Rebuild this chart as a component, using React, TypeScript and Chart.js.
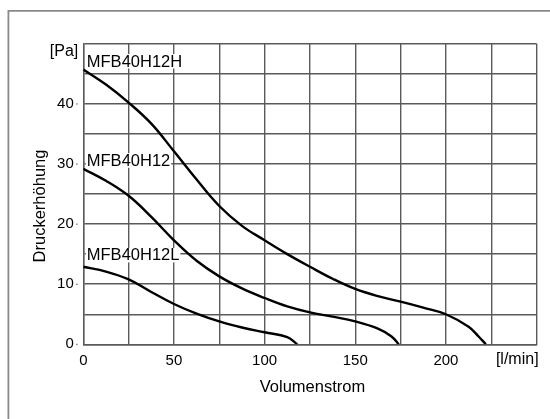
import React, { useEffect, useRef } from 'react';
import { Chart, registerables } from 'chart.js';

Chart.register(...registerables);

// Volumenstrom [l/min] and Druckerhöhung [Pa] per fan model
const flowH = [0, 12.5, 25, 37.5, 50, 62.5, 75, 87.5, 100, 112.5, 125, 137.5, 150, 162.5, 175, 187.5, 200, 212.5, 218, 222];
const pressureH = [45.7, 43.2, 40.2, 36.7, 32.1, 27.4, 23.0, 19.7, 17.3, 15.0, 12.9, 10.9, 9.2, 8.0, 7.1, 6.1, 5.0, 2.9, 1.3, 0];

const flowM = [0, 12.5, 25, 37.5, 50, 62.5, 75, 87.5, 100, 112.5, 125, 137.5, 150, 162.5, 170, 174];
const pressureM = [29.2, 27.2, 24.7, 21.2, 17.3, 13.9, 11.3, 9.3, 7.7, 6.3, 5.3, 4.6, 3.8, 2.6, 1.3, 0];

const flowL = [0, 12.5, 25, 37.5, 50, 62.5, 75, 87.5, 100, 112.5, 118];
const pressureL = [12.9, 12.1, 10.8, 8.7, 6.7, 5.1, 3.8, 2.8, 2.0, 1.2, 0];

const seriesNames = ['MFB40H12H', 'MFB40H12', 'MFB40H12L'];
const seriesLabelValues = [46.2, 29.7, 13.95];

const xTitle = 'Volumenstrom';
const yTitle = 'Druckerhöhung';
const xUnit = '[l/min]';
const yUnit = '[Pa]';

const xMin = 0;
const xMax = 250;
const xStep = 25;
const xLabelStep = 50;
const yMin = 0;
const yMax = 50;
const yStep = 5;
const yLabelStep = 10;

const FONT = '"Liberation Sans", Arial, Helvetica, sans-serif';
const GRID = '#5a5a5a';

const toPoints = (xs: number[], ys: number[]) => xs.map((x, i) => ({ x, y: ys[i] }));

const overlayPlugin = {
  id: 'overlay',
  afterDatasetsDraw(chart: any) {
    const { ctx, scales } = chart;
    const xs = scales.x;
    const ys = scales.y;
    ctx.save();
    ctx.font = `16.5px ${FONT}`;
    ctx.textBaseline = 'alphabetic';
    ctx.textAlign = 'left';
    seriesNames.forEach((name: string, i: number) => {
      const px = xs.getPixelForValue(0) + 3.5;
      const py = ys.getPixelForValue(seriesLabelValues[i]);
      const w = ctx.measureText(name).width;
      ctx.fillStyle = '#ffffff';
      ctx.fillRect(px - 1, py - 12.5, w + 2, 14.5);
      ctx.fillStyle = '#000000';
      ctx.fillText(name, px, py);
    });
    ctx.restore();
  },
  afterDraw(chart: any) {
    const { ctx, scales, chartArea } = chart;
    const xs = scales.x;
    const ys = scales.y;
    ctx.save();
    // outer frame
    ctx.strokeStyle = '#8a8a8a';
    ctx.lineWidth = 1.8;
    ctx.beginPath();
    ctx.moveTo(8.4, chart.height + 2);
    ctx.lineTo(8.4, 10.8);
    ctx.lineTo(chart.width + 2, 10.8);
    ctx.stroke();

    // small tick dots beside the y labels
    ctx.fillStyle = '#666666';
    for (let v = yMin; v < yMax; v += yLabelStep) {
      ctx.fillRect(xs.getPixelForValue(xMin) - 7, ys.getPixelForValue(v) - 0.5, 1.3, 1.3);
    }

    ctx.fillStyle = '#000000';
    ctx.font = `16px ${FONT}`;
    ctx.textBaseline = 'alphabetic';
    // units
    ctx.textAlign = 'right';
    ctx.fillText(yUnit, xs.getPixelForValue(xMin) - 5, ys.getPixelForValue(yMax) + 12);
    ctx.fillText(xUnit, xs.getPixelForValue(xMax) + 2, chartArea.bottom + 20);
    // x title
    ctx.textAlign = 'center';
    ctx.font = `16.5px ${FONT}`;
    ctx.fillText(xTitle, (chartArea.left + chartArea.right) / 2 + 2.5, chartArea.bottom + 47.5);
    // y title
    ctx.translate(44.5, (chartArea.top + chartArea.bottom) / 2 + 12);
    ctx.rotate(-Math.PI / 2);
    ctx.fillText(yTitle, 0, 0);
    ctx.restore();
  },
};

export default function App() {
  const ref = useRef<HTMLCanvasElement | null>(null);

  useEffect(() => {
    if (!ref.current) return;
    const line = {
      borderColor: '#000000',
      borderWidth: 2.4,
      pointRadius: 0,
      fill: false,
      tension: 0.4,
    };
    const chart = new Chart(ref.current, {
      type: 'line',
      data: {
        datasets: [
          { label: seriesNames[0], data: toPoints(flowH, pressureH), ...line },
          { label: seriesNames[1], data: toPoints(flowM, pressureM), ...line },
          { label: seriesNames[2], data: toPoints(flowL, pressureL), ...line },
        ],
      },
      options: {
        animation: false,
        responsive: false,
        maintainAspectRatio: false,
        devicePixelRatio: 1,
        layout: { padding: { top: 43.7, right: 13.4, left: 0, bottom: 0 } },
        plugins: { legend: { display: false }, tooltip: { enabled: false } },
        scales: {
          x: {
            type: 'linear',
            min: xMin,
            max: xMax,
            afterFit: (s: any) => {
              s.height = 74.7;
            },
            ticks: {
              stepSize: xStep,
              autoSkip: false,
              maxRotation: 0,
              padding: 8,
              color: '#000000',
              font: { family: FONT, size: 15 },
              callback: (v: any) => (Number(v) % xLabelStep === 0 && Number(v) < xMax ? String(v) : ''),
            },
            grid: { color: GRID, lineWidth: 1.4, drawTicks: false },
            border: { color: GRID, width: 1.4 },
          },
          y: {
            type: 'linear',
            min: yMin,
            max: yMax,
            afterFit: (s: any) => {
              s.width = 83.3;
            },
            ticks: {
              stepSize: yStep,
              autoSkip: false,
              padding: 9.5,
              color: '#000000',
              font: { family: FONT, size: 15 },
              callback: (v: any) => (Number(v) % yLabelStep === 0 && Number(v) < yMax ? String(v) : ''),
            },
            grid: { color: GRID, lineWidth: 1.4, drawTicks: false },
            border: { color: GRID, width: 1.4 },
          },
        },
      },
      plugins: [overlayPlugin],
    });
    return () => chart.destroy();
  }, []);

  return (
    <div style={{ position: 'absolute', left: 0, top: 0, width: 550, height: 419 }}>
      <canvas ref={ref} width={550} height={419} style={{ display: 'block' }} />
    </div>
  );
}
